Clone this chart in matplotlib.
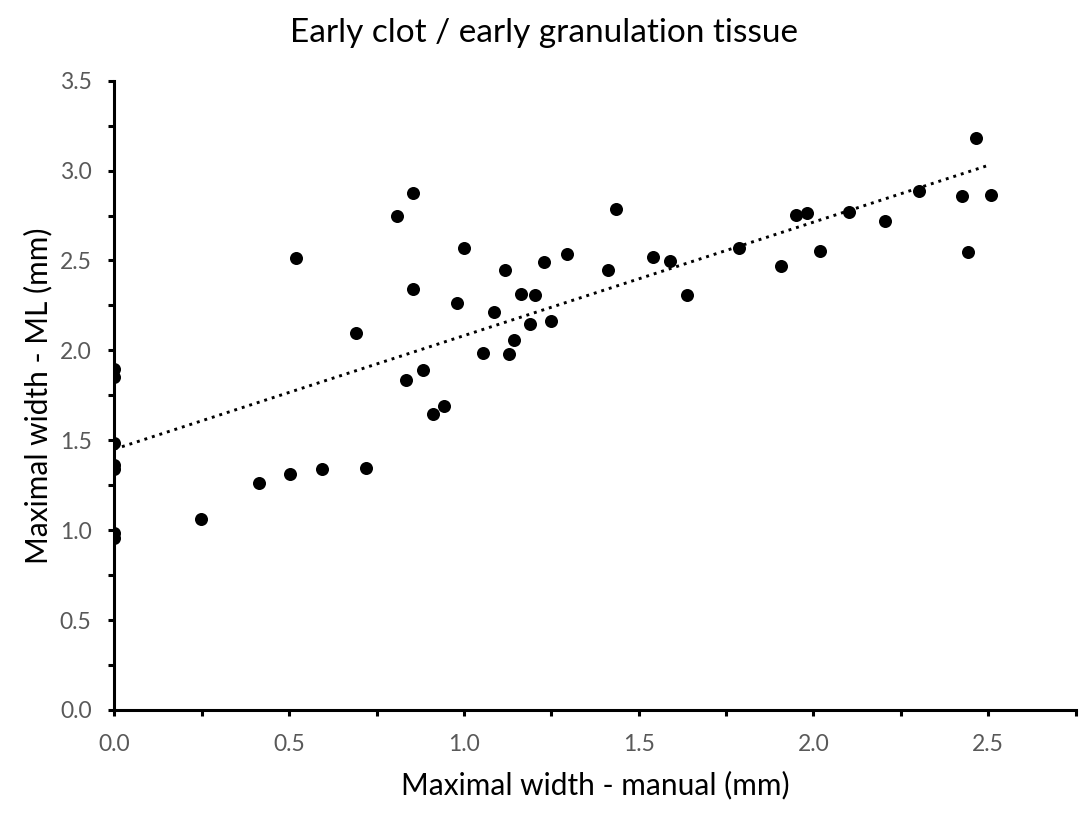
"""Scatter of ML-measured vs manual maximal width with a linear trendline."""

import matplotlib
matplotlib.use("Agg")
import matplotlib.pyplot as plt
import numpy as np
from matplotlib.ticker import MultipleLocator, FormatStrFormatter


TITLE = "Early clot / early granulation tissue"
X_LABEL = "Maximal width - manual (mm)"
Y_LABEL = "Maximal width - ML (mm)"

# manual width (mm)
manual_width = [
    0.0, 0.0, 0.0, 0.0, 0.0, 0.0, 0.0,
    0.249, 0.414, 0.503, 0.520, 0.593, 0.690, 0.719, 0.809, 0.835, 0.853,
    0.855, 0.882, 0.910, 0.942, 0.981, 1.001, 1.054, 1.087, 1.116, 1.128,
    1.144, 1.163, 1.190, 1.202, 1.230, 1.248, 1.295, 1.411, 1.435, 1.542,
    1.589, 1.637, 1.788, 1.908, 1.951, 1.982, 2.018, 2.102, 2.205, 2.303,
    2.425, 2.442, 2.464, 2.507,
]
# ML width (mm), same order
ml_width = [
    1.895, 1.850, 1.483, 1.363, 1.339, 0.983, 0.955,
    1.060, 1.264, 1.313, 2.516, 1.340, 2.099, 1.344, 2.749, 1.835, 2.341,
    2.877, 1.891, 1.647, 1.691, 2.265, 2.568, 1.987, 2.215, 2.447, 1.978,
    2.058, 2.312, 2.149, 2.306, 2.490, 2.162, 2.536, 2.447, 2.788, 2.521,
    2.499, 2.308, 2.571, 2.469, 2.751, 2.762, 2.555, 2.768, 2.718, 2.887,
    2.861, 2.546, 3.180, 2.866,
]

plt.rcParams["font.family"] = ["Lato", "DejaVu Sans"]

x = np.asarray(manual_width)
y = np.asarray(ml_width)

fig = plt.figure(figsize=(10.89, 8.14), dpi=100)
axis = fig.add_axes([0.1051, 0.1278, 0.8826, 0.7731])

axis.scatter(x, y, s=88, color="black", linewidths=0, zorder=3)

# Excel-style linear trendline over the data range
slope, intercept = np.polyfit(x, y, 1)
fit_x = np.array([x.min(), x.max()])
axis.plot(fit_x, intercept + slope * fit_x, color="black", linewidth=2.1,
          linestyle=(0, (1, 1.7)), zorder=2)

axis.set_xlim(0, 2.75)
axis.set_ylim(0, 3.5)
axis.xaxis.set_major_locator(MultipleLocator(0.5))
axis.xaxis.set_minor_locator(MultipleLocator(0.25))
axis.yaxis.set_major_locator(MultipleLocator(0.5))
axis.yaxis.set_minor_locator(MultipleLocator(0.25))
axis.xaxis.set_major_formatter(FormatStrFormatter("%.1f"))
axis.yaxis.set_major_formatter(FormatStrFormatter("%.1f"))

for side in ("top", "right"):
    axis.spines[side].set_visible(False)
for side in ("left", "bottom"):
    axis.spines[side].set_linewidth(2.2)

axis.tick_params(which="both", direction="out", width=2.2, length=4.5,
                 colors="black", labelcolor="#595959", labelsize=16.5)
axis.tick_params(axis="x", which="major", pad=13)
axis.tick_params(axis="y", which="major", pad=12)

axis.set_xlabel(X_LABEL, fontsize=21.5, labelpad=11)
axis.set_ylabel(Y_LABEL, fontsize=21.5, labelpad=5)
fig.text(0.5, 0.948, TITLE, fontsize=24, ha="center", va="baseline")

fig.savefig("out.png", dpi=100)
